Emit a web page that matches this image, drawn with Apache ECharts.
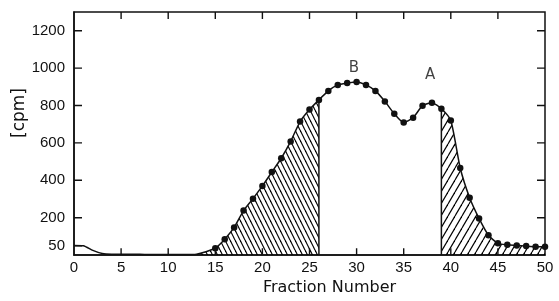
<!DOCTYPE html>
<html>
<head>
<meta charset="utf-8">
<script src="https://cdn.jsdelivr.net/npm/echarts@6/dist/echarts.min.js"></script>
<style>
  html,body{margin:0;padding:0;background:#fff}
  #main{width:559px;height:301px}
</style>
</head>
<body>
<div id="main"></div>
<script>
// fraction number -> counts per minute
var fractions = []
for (var f = 0; f <= 50; f++) fractions.push(f)
var cpm = [
  52, 50, 25, 8, 5, 5, 4, 4, 3, 3,
  3, 3, 3, 5, 18, 37, 85, 148, 238, 302,
  370, 444, 518, 608, 714, 778, 830, 878, 910, 920,
  926, 910, 878, 822, 756, 709, 735, 799, 815, 783,
  720, 466, 307, 196, 106, 63, 55, 52, 48, 45,
  45
]
var xTicks = [5, 10, 15, 20, 25, 30, 35, 40, 45]
var yTicks = [50, 200, 400, 600, 800, 1000, 1200]
var leftBand = [13, 26]   // hatched "\\"
var rightBand = [39, 50]  // hatched "/"
var firstDot = 15
var peaks = [
  {name: 'B', x: 29.7, y: 1000},
  {name: 'A', x: 37.8, y: 960}
]

var FONT = 'Liberation Sans'
var XMAX = 50, YMAX = 1300
var W = 559, H = 301
var G = {left: 74, right: 14, top: 12, bottom: 42}

function hatch(w, h, back){
  var c = document.createElement('canvas')
  c.width = w; c.height = h
  var ctx = c.getContext('2d')
  ctx.strokeStyle = '#000'
  ctx.lineWidth = 1.2
  for (var k = -2; k <= 2; k++){
    ctx.beginPath()
    if (back){
      ctx.moveTo(k*w, 0); ctx.lineTo(k*w + w, h)
    } else {
      ctx.moveTo(k*w + w, 0); ctx.lineTo(k*w, h)
    }
    ctx.stroke()
  }
  return {image: c, repeat: 'repeat'}
}

function pts(a, b){
  var out = []
  for (var i = a; i <= b; i++) out.push([fractions[i], cpm[i]])
  return out
}

// tick lengths in pixels, turned into axis units
var tickY = YMAX * 7 / (H - G.top - G.bottom)
var tickX = XMAX * 8 / (W - G.left - G.right)

function tickSeries(a, b){
  return {type: 'line', data: [a, b], symbol: 'none', silent: true,
    lineStyle: {color: '#111', width: 1.4}, z: 5}
}

var series = [{
  type: 'line', data: pts(leftBand[0], leftBand[1]), smooth: 0.2,
  symbol: 'none', lineStyle: {width: 0},
  areaStyle: {color: hatch(5, 10, true), opacity: 1}, z: 1
}, {
  type: 'line', data: pts(rightBand[0], rightBand[1]), smooth: 0.2,
  symbol: 'none', lineStyle: {width: 0},
  areaStyle: {color: hatch(7, 12, false), opacity: 1}, z: 1
}, {
  type: 'line', data: [[leftBand[1], 0], [leftBand[1], cpm[leftBand[1]]]],
  symbol: 'none', lineStyle: {color: '#111', width: 1.5}, z: 2
}, {
  type: 'line', data: [[rightBand[0], 0], [rightBand[0], cpm[rightBand[0]]]],
  symbol: 'none', lineStyle: {color: '#111', width: 1.5}, z: 2
}, {
  type: 'line', data: pts(0, 50), smooth: 0.2,
  showAllSymbol: true, symbol: 'circle',
  symbolSize: function(v, p){ return p.dataIndex >= firstDot ? 6.5 : 0 },
  itemStyle: {color: '#111'},
  lineStyle: {color: '#111', width: 1.5}, z: 3
}, {
  type: 'scatter', symbolSize: 0,
  data: peaks.map(function(p){ return {name: p.name, value: [p.x, p.y]} }),
  label: {show: true, position: 'inside', formatter: '{b}', color: '#111', fontFamily: 'DejaVu Sans', fontSize: 15},
  z: 4
}]

// inward ticks on all four sides
xTicks.forEach(function(v){
  series.push(tickSeries([v, 0], [v, tickY]))
  series.push(tickSeries([v, YMAX], [v, YMAX - tickY]))
})
yTicks.forEach(function(v){
  series.push(tickSeries([0, v], [tickX, v]))
  if (v >= 200) series.push(tickSeries([XMAX, v], [XMAX - tickX, v]))
})

var chart = echarts.init(document.getElementById('main'))

chart.setOption({
  animation: false,
  backgroundColor: '#fff',
  grid: {left: G.left, right: G.right, top: G.top, bottom: G.bottom, show: true,
    borderColor: '#111', borderWidth: 1.5, backgroundColor: 'transparent'},
  xAxis: {
    type: 'value', min: 0, max: XMAX, interval: 5,
    axisLine: {show: true, lineStyle: {color: '#111', width: 1.5}},
    axisTick: {show: false},
    axisLabel: {color: '#111', fontFamily: FONT, fontSize: 15, margin: 5},
    splitLine: {show: false},
    name: 'Fraction Number', nameLocation: 'middle', nameGap: 23,
    nameTextStyle: {color: '#111', fontFamily: 'DejaVu Sans', fontSize: 16, padding: [0, 0, 0, 40]}
  },
  yAxis: {
    type: 'value', min: 0, max: YMAX,
    axisLine: {show: true, lineStyle: {color: '#111', width: 1.5}},
    axisTick: {show: false},
    axisLabel: {color: '#111', fontFamily: FONT, fontSize: 15, margin: 9, customValues: yTicks,
      formatter: function(v){ return String(v) }},
    splitLine: {show: false}
  },
  graphic: [{
    type: 'text', x: 20, y: 113, rotation: Math.PI/2,
    style: {text: '[cpm]', fill: '#111', font: '17px "DejaVu Sans"', align: 'center', verticalAlign: 'middle'}
  }],
  series: series
})
</script>
</body>
</html>
